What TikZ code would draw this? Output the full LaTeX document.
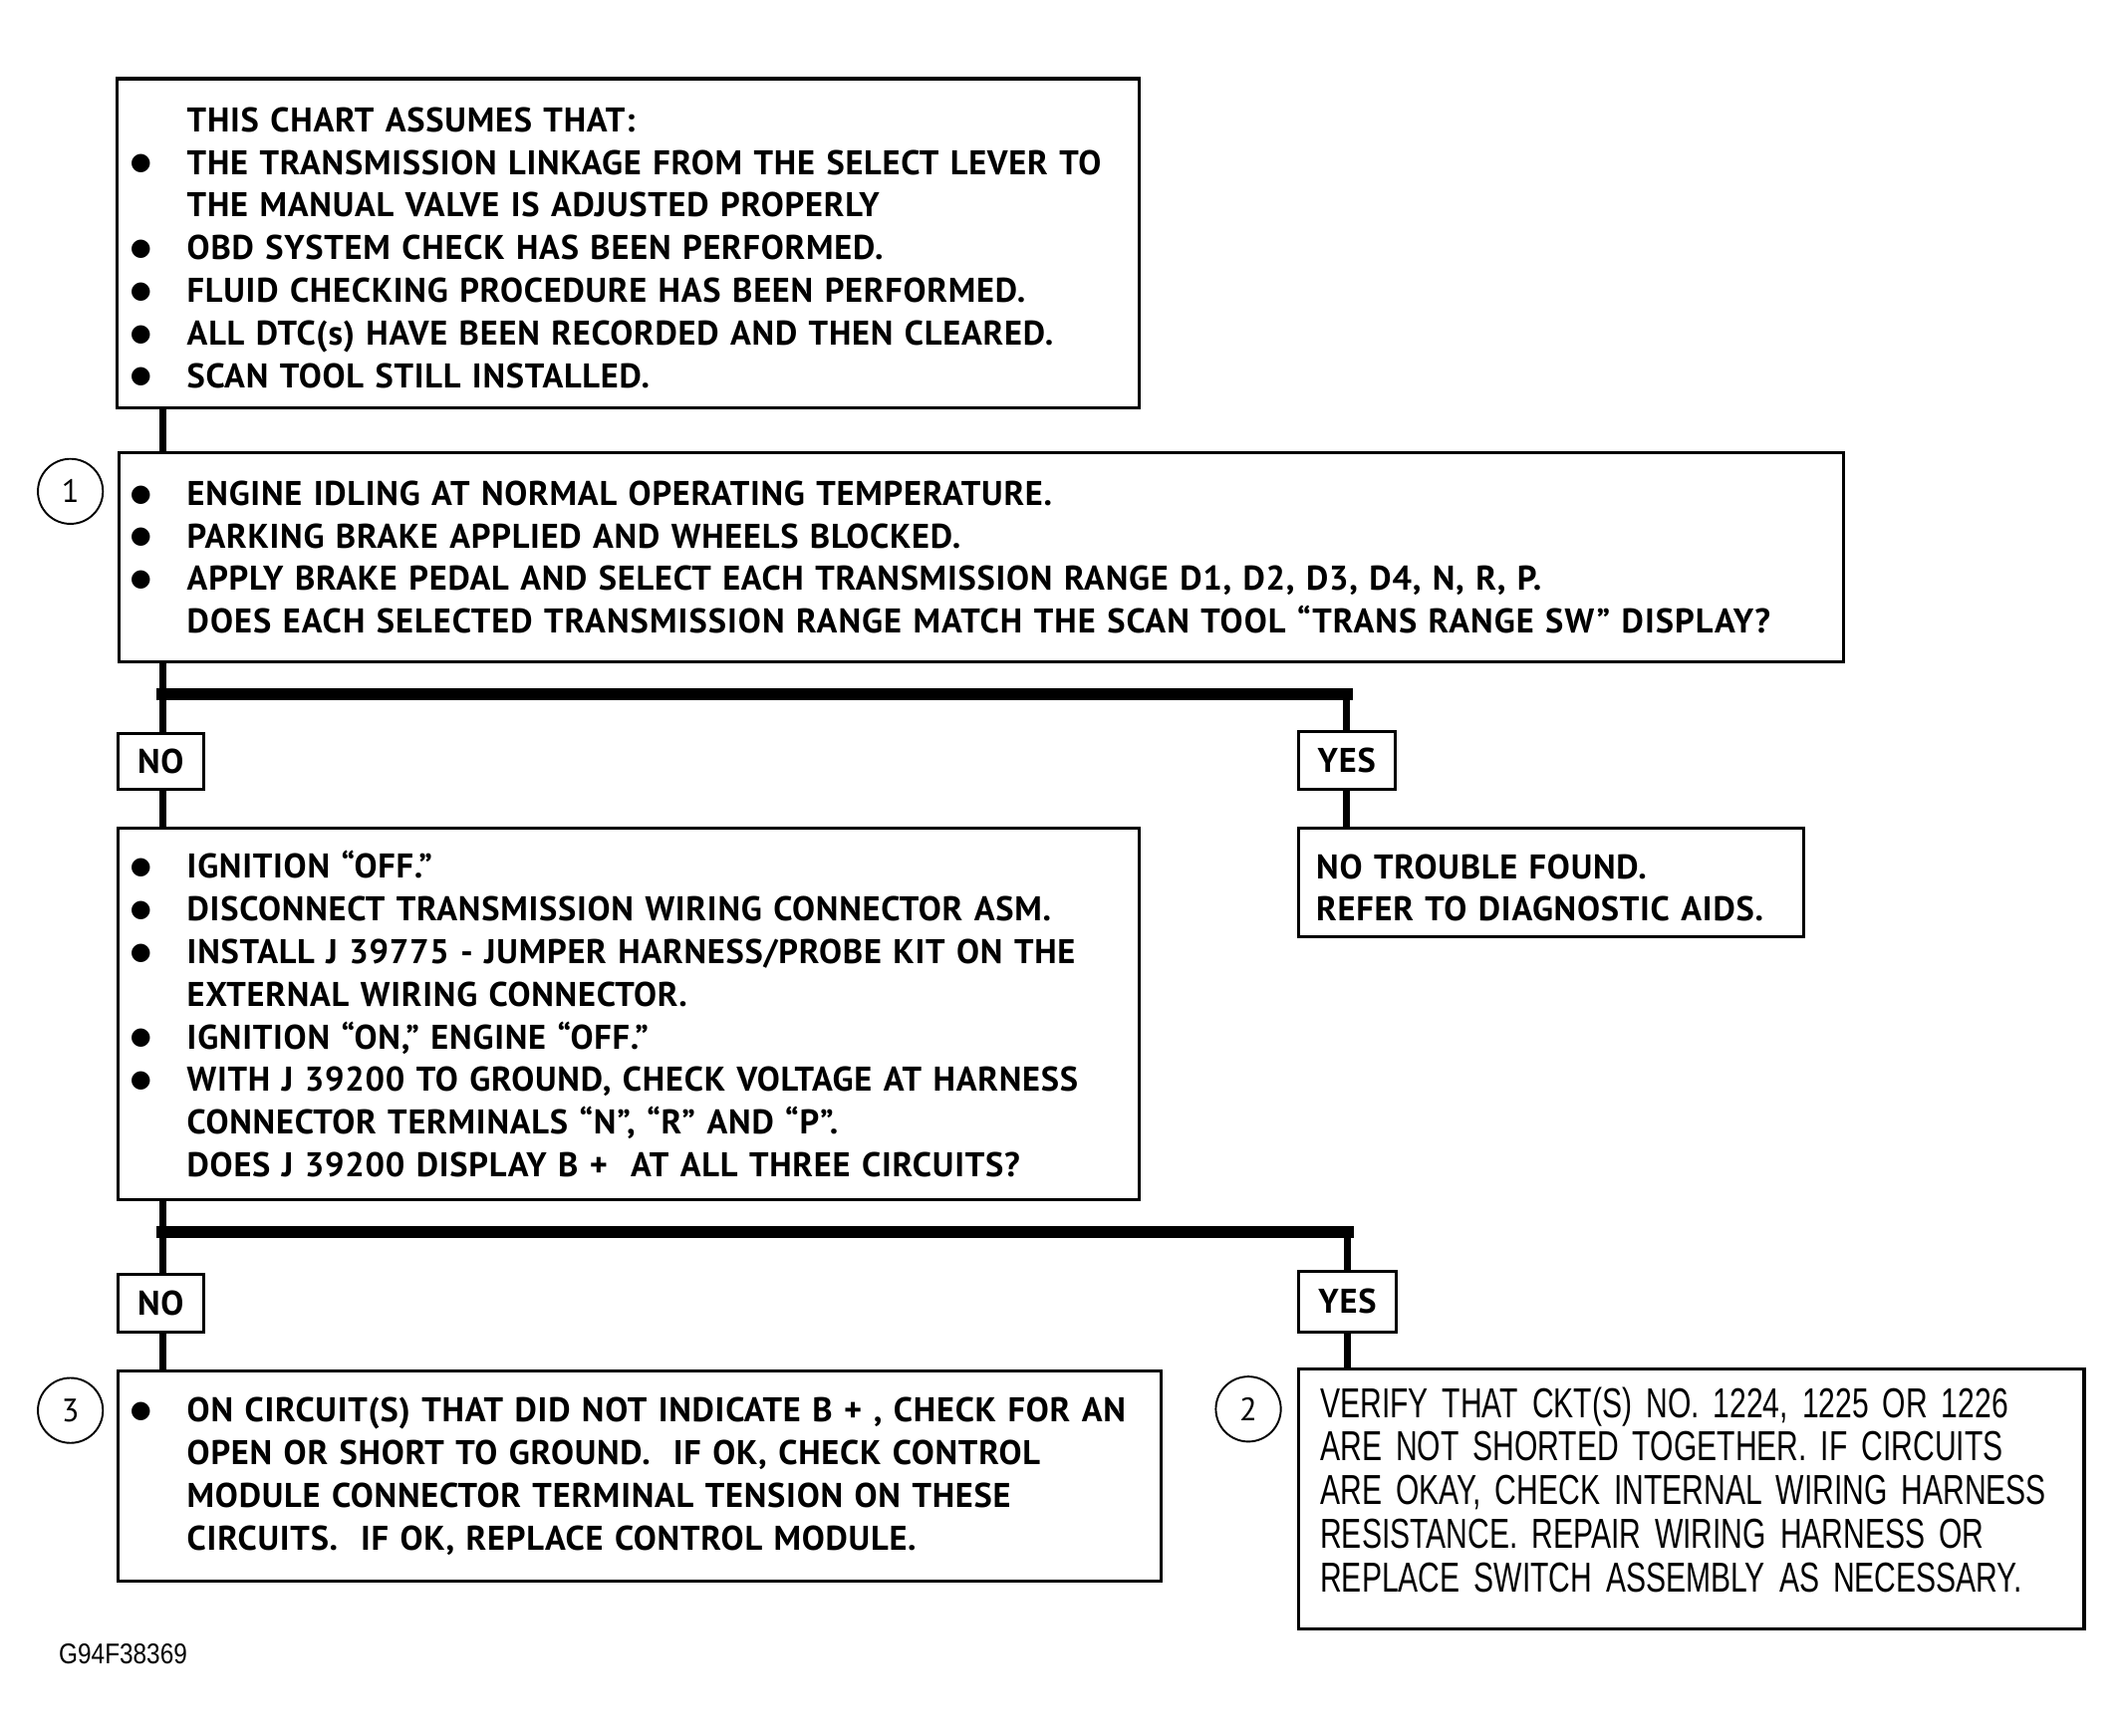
\documentclass[tikz,border=0pt]{standalone}
\usepackage{fontspec}
\setmainfont{PT Sans}[LetterSpace=2.2]
\newfontfamily\narrowfont{Liberation Sans}[FakeStretch=0.715]
\newfontfamily\idfont{Liberation Sans}[FakeStretch=0.85]
\newfontfamily\dotfont{DejaVu Sans}
\usepackage{tikz}
\usetikzlibrary{positioning}
\tikzstyle{box} = [draw, line width=0.8pt, anchor=north west, inner sep=0pt, align=left, font=\bfseries\fontsize{9}{11.2}\selectfont]
\tikzstyle{tag} = [draw, line width=0.8pt, anchor=north west, inner sep=0pt, font=\bfseries\fontsize{9}{11.2}\selectfont]
\tikzstyle{link} = [line width=1.8pt]
\tikzstyle{bar} = [line width=3.2pt, line cap=rect]
\tikzstyle{num} = [circle, draw, line width=0.5pt, minimum size=0.6cm, inner sep=0pt, font=\fontsize{8.5}{8.5}\selectfont]
\newcommand{\bul}{\leavevmode\llap{\raisebox{1.1pt}{\dotfont\fontsize{6.3}{6.3}\selectfont ●}\hspace{0.33cm}}}
\newcommand{\pad}[1]{\leftskip=#1\rightskip=-2cm plus 1fil\relax}

\begin{document}
\begin{tikzpicture}[x=0.0125cm, y=-0.0125cm]
\useasboundingbox (0,0) rectangle (1568,1282.5);

% first chart box
\node [box, text width=9.4375cm, minimum height=3.0375cm] (chart) at (85,57) {\pad{0.65cm}%
\rule{0pt}{0.31cm}THIS CHART ASSUMES THAT:\\
\bul THE TRANSMISSION LINKAGE FROM THE SELECT LEVER TO\\
THE MANUAL VALVE IS ADJUSTED PROPERLY\\
\bul OBD SYSTEM CHECK HAS BEEN PERFORMED.\\
\bul FLUID CHECKING PROCEDURE HAS BEEN PERFORMED.\\
\bul ALL DTC(s) HAVE BEEN RECORDED AND THEN CLEARED.\\
\bul SCAN TOOL STILL INSTALLED.\par};

\node [box, text width=15.9125cm, minimum height=1.9375cm] (s1) at (87,333) {\pad{0.625cm}%
\bul ENGINE IDLING AT NORMAL OPERATING TEMPERATURE.\\
\bul PARKING BRAKE APPLIED AND WHEELS BLOCKED.\\
\bul APPLY BRAKE PEDAL AND SELECT EACH TRANSMISSION RANGE D1, D2, D3, D4, N, R, P.\\
{\addfontfeature{LetterSpace=3.1}DOES EACH SELECTED TRANSMISSION RANGE MATCH THE SCAN TOOL “TRANS RANGE SW” DISPLAY?}\par};
\node [num] (c1) at (52,363) {1};

\node [tag, minimum width=0.7875cm, minimum height=0.5125cm] (no1) at (86,541) {NO};
\node [tag, minimum width=0.8875cm, minimum height=0.5375cm] (yes1) at (958,539) {YES};

\node [box, text width=9.425cm, minimum height=3.425cm] (s2) at (86,611) {\pad{0.6375cm}%
\bul IGNITION “OFF.”\\
\bul DISCONNECT TRANSMISSION WIRING CONNECTOR ASM.\\
\bul INSTALL J 39775 - JUMPER HARNESS/PROBE KIT ON THE\\
EXTERNAL WIRING CONNECTOR.\\
\bul IGNITION “ON,” ENGINE “OFF.”\\
\bul WITH J 39200 TO GROUND, CHECK VOLTAGE AT HARNESS\\
CONNECTOR TERMINALS “N”, “R” AND “P”.\\
DOES J 39200 DISPLAY B + \ AT ALL THREE CIRCUITS?\par};

\node [box, text width=4.6625cm, minimum height=1cm] (ntf) at (958,611) {\pad{0.1625cm}%
\rule{0pt}{0.32cm}NO TROUBLE FOUND.\\
REFER TO DIAGNOSTIC AIDS.\par};

\node [tag, minimum width=0.7875cm, minimum height=0.5375cm] (no2) at (86,940) {NO};
\node [tag, minimum width=0.9cm, minimum height=0.5625cm] (yes2) at (958,938) {YES};

\node [box, text width=9.625cm, minimum height=1.9375cm] (s3) at (86,1012) {\pad{0.6375cm}%
\bul ON CIRCUIT(S) THAT DID NOT INDICATE B + , CHECK FOR AN\\
OPEN OR SHORT TO GROUND. \ IF OK, CHECK CONTROL\\
MODULE CONNECTOR TERMINAL TENSION ON THESE\\
CIRCUITS. \ IF OK, REPLACE CONTROL MODULE.\par};
\node [num] (c3) at (52,1042) {3};

\node [box, text width=7.25cm, minimum height=2.4cm, font=\narrowfont\fontsize{11}{11.45}\selectfont] (s4) at (958,1010) {\pad{0.2cm}%
VERIFY THAT CKT(S) NO. 1224, 1225 OR 1226\\
ARE NOT SHORTED TOGETHER. IF CIRCUITS\\
ARE OKAY, CHECK INTERNAL WIRING HARNESS\\
RESISTANCE. REPAIR WIRING HARNESS OR\\
REPLACE SWITCH ASSEMBLY AS NECESSARY.\rule[-0.17cm]{0pt}{0.17cm}\par};
\node [num] (c2) at (922,1041) {2};

\node [anchor=west, inner sep=0pt, font=\idfont\fontsize{7.5}{7.5}\selectfont] (fig) at (43,1222) {G94F38369};

\coordinate (j1) at (120,513);
\coordinate (j2) at (120,910);

\draw [link] (chart.south -| j1) to (s1.north -| j1);
\draw [link] (s1.south -| j1) to (no1.north -| j1);
\draw [bar] (j1) to (j1 -| yes1);
\draw [link] (j1 -| yes1) to (yes1.north);
\draw [link] (no1.south -| j1) to (s2.north -| j1);
\draw [link] (yes1.south) to (ntf.north -| yes1);

\draw [link] (s2.south -| j2) to (no2.north -| j2);
\draw [bar] (j2) to (j2 -| yes2);
\draw [link] (j2 -| yes2) to (yes2.north);
\draw [link] (no2.south -| j2) to (s3.north -| j2);
\draw [link] (yes2.south) to (s4.north -| yes2);

\end{tikzpicture}
\end{document}
